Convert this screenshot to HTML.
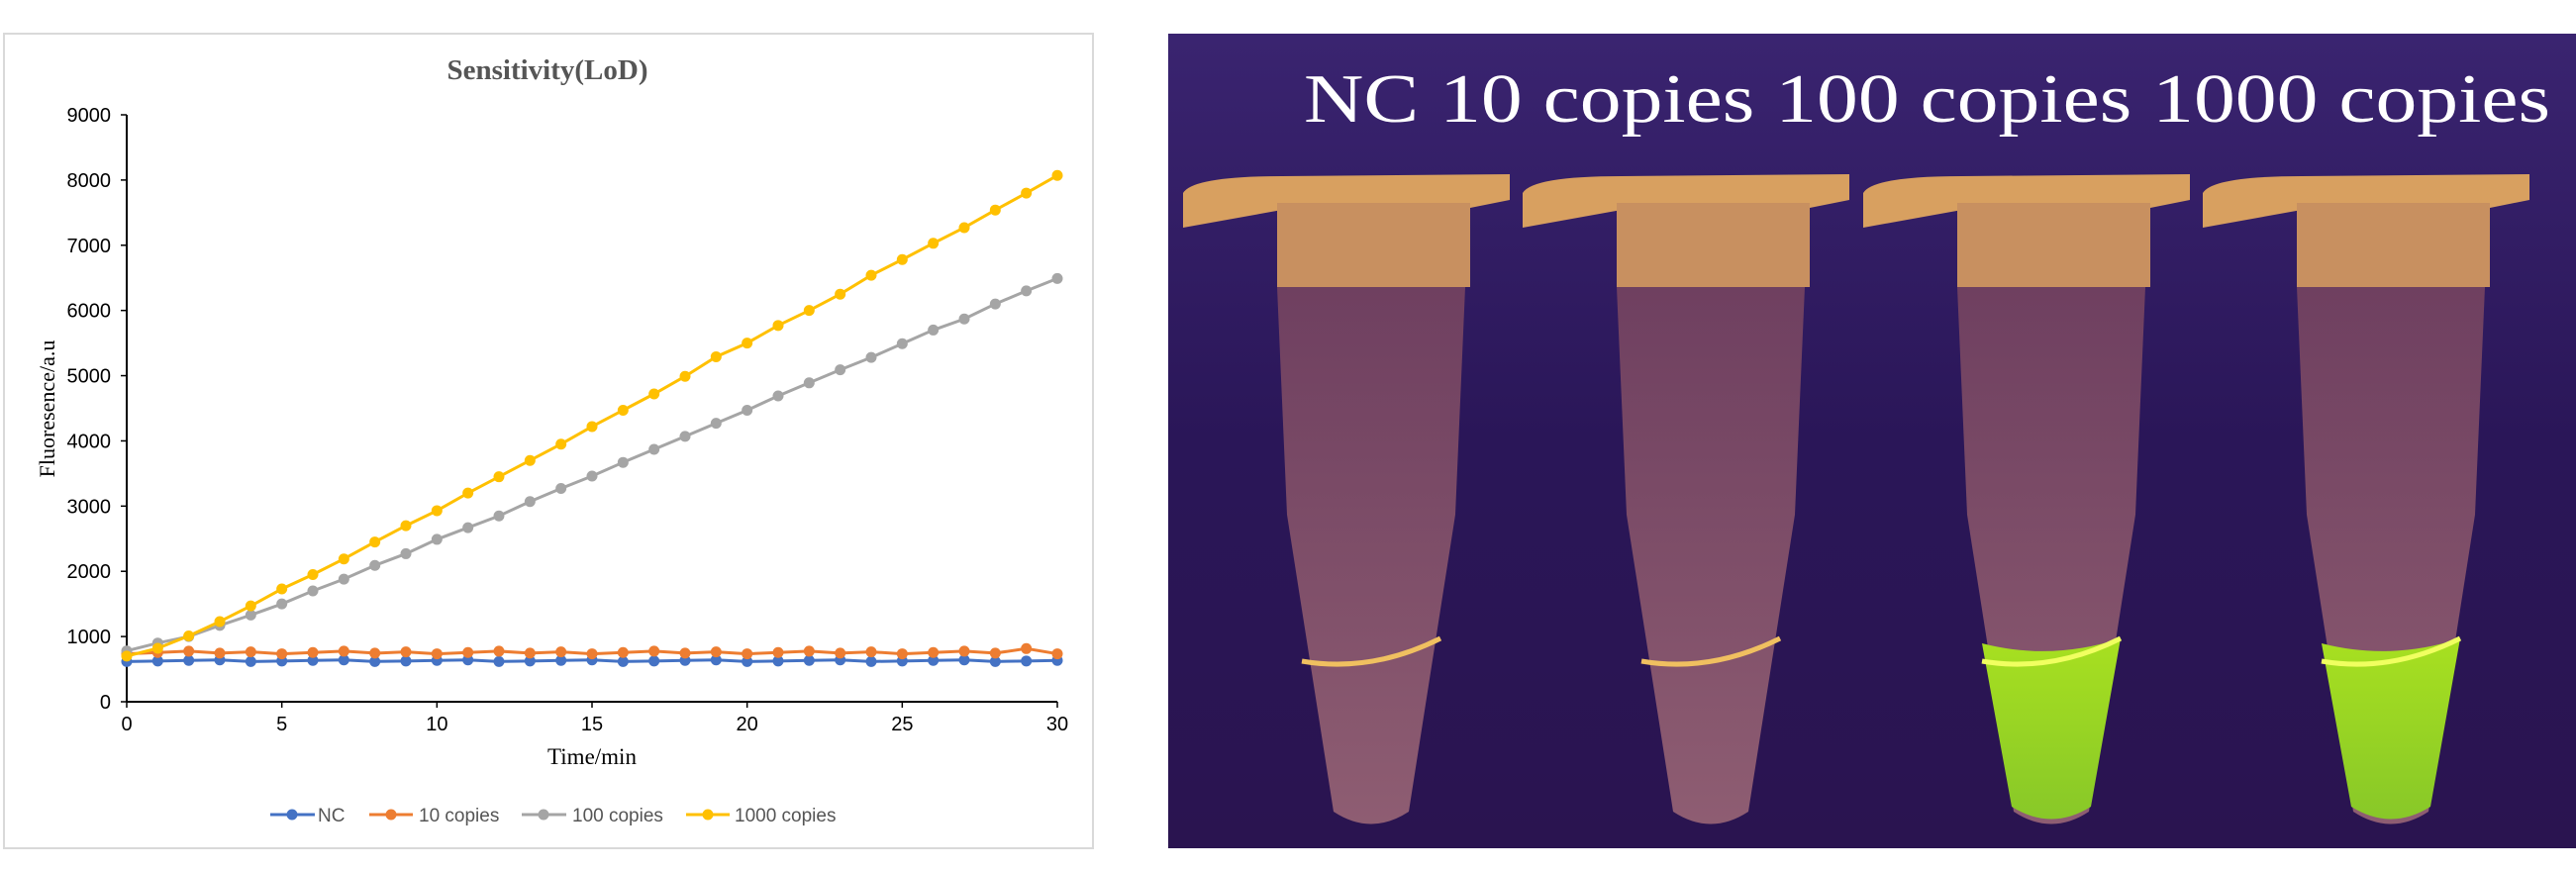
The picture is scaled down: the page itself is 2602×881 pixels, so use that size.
<!DOCTYPE html>
<html><head><meta charset="utf-8"><style>
html,body{margin:0;padding:0;background:#fff;width:2602px;height:881px;overflow:hidden}
svg{display:block}
</style></head><body>
<svg id="s" width="2602" height="881" xmlns="http://www.w3.org/2000/svg">
<defs>
<linearGradient id="bg" x1="0" y1="0" x2="0" y2="1"><stop offset="0" stop-color="#3a2470"/><stop offset="0.5" stop-color="#2a1658"/><stop offset="1" stop-color="#2a1450"/></linearGradient>
<linearGradient id="tb" x1="0" y1="0" x2="0" y2="1"><stop offset="0" stop-color="#7a4660"/><stop offset="1" stop-color="#a06a78"/></linearGradient>
<linearGradient id="gr" x1="0" y1="0" x2="0" y2="1"><stop offset="0" stop-color="#a8e020"/><stop offset="1" stop-color="#88c828"/></linearGradient>
</defs>
<rect x="4" y="34" width="1100" height="823" fill="#fff" stroke="#d9d9d9" stroke-width="2"/>
<text x="553" y="80" text-anchor="middle" font-family="Liberation Serif, serif" font-weight="bold" font-size="29" fill="#555">Sensitivity(LoD)</text>
<g id="chart"></g>
<text transform="translate(55,413) rotate(-90)" text-anchor="middle" font-family="Liberation Serif, serif" font-size="22" fill="#000">Fluoresence/a.u</text>
<text x="598" y="772" text-anchor="middle" font-family="Liberation Serif, serif" font-size="23" fill="#000">Time/min</text>
<g font-family="Liberation Sans, sans-serif" font-size="19" fill="#555">
<line x1="273" y1="823" x2="318" y2="823" stroke="#4472c4" stroke-width="3"/><circle cx="295" cy="823" r="5.5" fill="#4472c4"/><text x="321" y="830">NC</text>
<line x1="373" y1="823" x2="417" y2="823" stroke="#ed7d31" stroke-width="3"/><circle cx="395" cy="823" r="5.5" fill="#ed7d31"/><text x="423" y="830">10 copies</text>
<line x1="527" y1="823" x2="572" y2="823" stroke="#a5a5a5" stroke-width="3"/><circle cx="549" cy="823" r="5.5" fill="#a5a5a5"/><text x="578" y="830">100 copies</text>
<line x1="693" y1="823" x2="737" y2="823" stroke="#ffc000" stroke-width="3"/><circle cx="715" cy="823" r="5.5" fill="#ffc000"/><text x="742" y="830">1000 copies</text>
</g>
<rect x="1180" y="34" width="1422" height="823" fill="url(#bg)"/>
<g id="tubes"></g>
<text x="1317" y="123" font-family="Liberation Serif, serif" font-size="70" fill="#fff" textLength="1259" lengthAdjust="spacingAndGlyphs">NC  10 copies 100 copies 1000 copies</text>
</svg>
<script>
var g=document.getElementById('chart'),h='';
function X(t){return 128+t*(1068-128)/30}
function Y(v){return 709-v*(709-116)/9000}
h+='<line x1="128" y1="116" x2="128" y2="709" stroke="#000" stroke-width="2"/>';
h+='<line x1="128" y1="709" x2="1068" y2="709" stroke="#000" stroke-width="2"/>';
for(var i=0;i<=9;i++){var y=Y(i*1000);h+='<line x1="122" y1="'+y+'" x2="128" y2="'+y+'" stroke="#000" stroke-width="1.5"/><text x="112" y="'+(y+7)+'" text-anchor="end" font-family="Liberation Sans, sans-serif" font-size="20" fill="#000">'+(i*1000)+'</text>';}
for(var t=0;t<=30;t+=5){var x=X(t);h+='<line x1="'+x+'" y1="709" x2="'+x+'" y2="715" stroke="#000" stroke-width="1.5"/><text x="'+x+'" y="738" text-anchor="middle" font-family="Liberation Sans, sans-serif" font-size="20" fill="#000">'+t+'</text>';}
var Yd=[700,820,1010,1230,1470,1730,1950,2190,2450,2700,2930,3200,3450,3700,3950,4220,4470,4720,4990,5290,5500,5770,6000,6250,6540,6780,7030,7270,7540,7800,8070];
var G=[780,900,1000,1170,1330,1500,1700,1880,2090,2270,2490,2670,2850,3070,3270,3460,3670,3870,4070,4270,4470,4690,4890,5090,5280,5490,5700,5870,6100,6300,6490];
var O=[],N=[];
for(var k=0;k<=30;k++){O.push(745+((k*37)%5)*10-10+(k==29?50:0));N.push(625+((k*53)%4)*8-8);}
function ser(d,c){var p='';for(var k=0;k<d.length;k++)p+=(k?'L':'M')+X(k)+','+Y(d[k]);var s='<path d="'+p+'" fill="none" stroke="'+c+'" stroke-width="3"/>';for(var k=0;k<d.length;k++)s+='<circle cx="'+X(k)+'" cy="'+Y(d[k])+'" r="5.5" fill="'+c+'"/>';return s;}
h+=ser(N,'#4472c4')+ser(O,'#ed7d31')+ser(G,'#a5a5a5')+ser(Yd,'#ffc000');
g.innerHTML=h;
var tb='',cs=[1385,1728,2072,2415];
cs.forEach(function(c,i){
 tb+='<path d="M'+(c-190)+',195 Q'+(c-180)+',178 '+(c-90)+',178 L'+(c+140)+',176 L'+(c+140)+',202 L'+(c+100)+',210 L'+(c-90)+',212 L'+(c-190)+',230 Z" fill="#d8a060"/>';
 tb+='<rect x="'+(c-95)+'" y="205" width="195" height="85" fill="#c89060"/>';
 tb+='<path d="M'+(c-95)+',290 L'+(c+95)+',290 L'+(c+85)+',520 L'+(c+38)+',820 Q'+(c)+',845 '+(c-38)+',820 L'+(c-85)+',520 Z" fill="url(#tb)" opacity="0.85"/>';
 if(i>=2) tb+='<path d="M'+(c-70)+',650 Q'+c+',668 '+(c+70)+',645 L'+(c+40)+',815 Q'+c+',840 '+(c-40)+',815 Z" fill="url(#gr)"/>';
 tb+='<path d="M'+(c-70)+',668 Q'+c+',680 '+(c+70)+',645" fill="none" stroke="'+(i>=2?'#f0ff60':'#f0c060')+'" stroke-width="5"/>';
});
document.getElementById('tubes').innerHTML=tb;
</script>
</body></html>
